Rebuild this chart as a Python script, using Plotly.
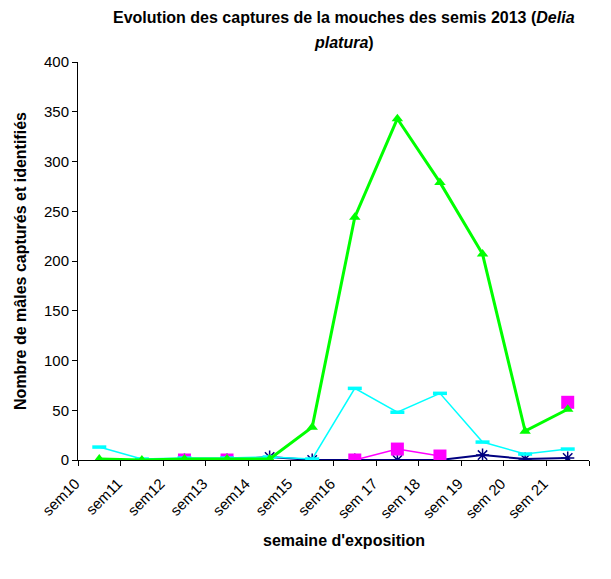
import plotly.graph_objects as go

weeks = ["sem10", "sem11", "sem12", "sem13", "sem14", "sem15", "sem16",
         "sem 17", "sem 18", "sem 19", "sem 20", "sem 21"]

navy_vals = [None, None, 0, 0, 3, 0, 0, 0, 0, 5, 1, 2]
magenta_vals = [None, None, 0, 0, None, None, 0, 11, 4, None, None, 58]
cyan_vals = [13, 1, 2, 2, 3, 1, 72, 48, 67, 18, 6, 11]
green_vals = [1, 0, 1, 1, 1, 33, 244, 343, 279, 207, 29, 51]

title_line1 = "<b>Evolution des captures de la mouches des semis 2013 (<i>Delia</i></b>"
title_line2 = "<b><i>platura</i>)</b>"

fig = go.Figure()

fig.add_trace(go.Scatter(
    x=weeks, y=navy_vals, mode="lines+markers", connectgaps=False,
    line=dict(color="#000080", width=2),
    marker=dict(symbol="asterisk-open", size=11, color="#000080",
                line=dict(color="#000080", width=1.5)),
))
fig.add_trace(go.Scatter(
    x=weeks, y=magenta_vals, mode="lines+markers", connectgaps=False,
    line=dict(color="#FF00FF", width=1.5),
    marker=dict(symbol="square", size=13, color="#FF00FF"),
))
fig.add_trace(go.Scatter(
    x=weeks, y=cyan_vals, mode="lines+markers",
    line=dict(color="#00FFFF", width=1.5),
    marker=dict(symbol="line-ew-open", size=10, color="#00FFFF",
                line=dict(color="#00FFFF", width=3.5)),
))
fig.add_trace(go.Scatter(
    x=weeks, y=green_vals, mode="lines+markers",
    line=dict(color="#00FF00", width=3),
    marker=dict(symbol="triangle-up", size=10, color="#00FF00"),
))

font_family = "Liberation Sans, Arial, sans-serif"
L, R, T, B = 63, 30, 54, 127
W, H = 611, 579
pw = W - L - R
ph = H - T - B

fig.update_layout(
    width=W, height=H,
    margin=dict(l=L, r=R, t=T, b=B),
    paper_bgcolor="white", plot_bgcolor="white",
    showlegend=False,
    font=dict(family=font_family, size=15, color="black"),
    xaxis=dict(
        type="category", categoryorder="array", categoryarray=weeks,
        range=[-0.5, 11.5],
        tickson="boundaries", ticks="outside", ticklen=5, tickcolor="black",
        showline=True, linecolor="black", linewidth=1,
        showgrid=False, zeroline=False,
        tickangle=-45, tickfont=dict(size=15),
        ticklabelstandoff=8, ticklabelshift=-24,
    ),
    yaxis=dict(
        range=[0, 400], tickvals=[0, 50, 100, 150, 200, 250, 300, 350, 400],
        ticks="outside", ticklen=5, tickcolor="black",
        showline=True, linecolor="black", linewidth=1,
        showgrid=False, zeroline=False,
        tickfont=dict(size=15),
        title=dict(text="<b>Nombre de mâles capturés et identifiés</b>", font=dict(size=16), standoff=13),
    ),
    annotations=[
        dict(
            text=title_line1,
            xref="paper", yref="paper",
            x=(333 - L) / pw, y=1 + (T - 10) / ph,
            xanchor="center", yanchor="middle", showarrow=False,
            font=dict(family=font_family, size=16, color="black"),
        ),
        dict(
            text=title_line2,
            xref="paper", yref="paper",
            x=(333 - L) / pw, y=1 + (T - 34) / ph,
            xanchor="center", yanchor="middle", showarrow=False,
            font=dict(family=font_family, size=16, color="black"),
        ),
        dict(
            text="<b>semaine d'exposition</b>",
            xref="paper", yref="paper",
            x=(333 - L) / pw, y=-80 / ph,
            xanchor="center", yanchor="middle", showarrow=False,
            font=dict(family=font_family, size=16, color="black"),
        ),
    ],
)

fig.write_html("out.html")
